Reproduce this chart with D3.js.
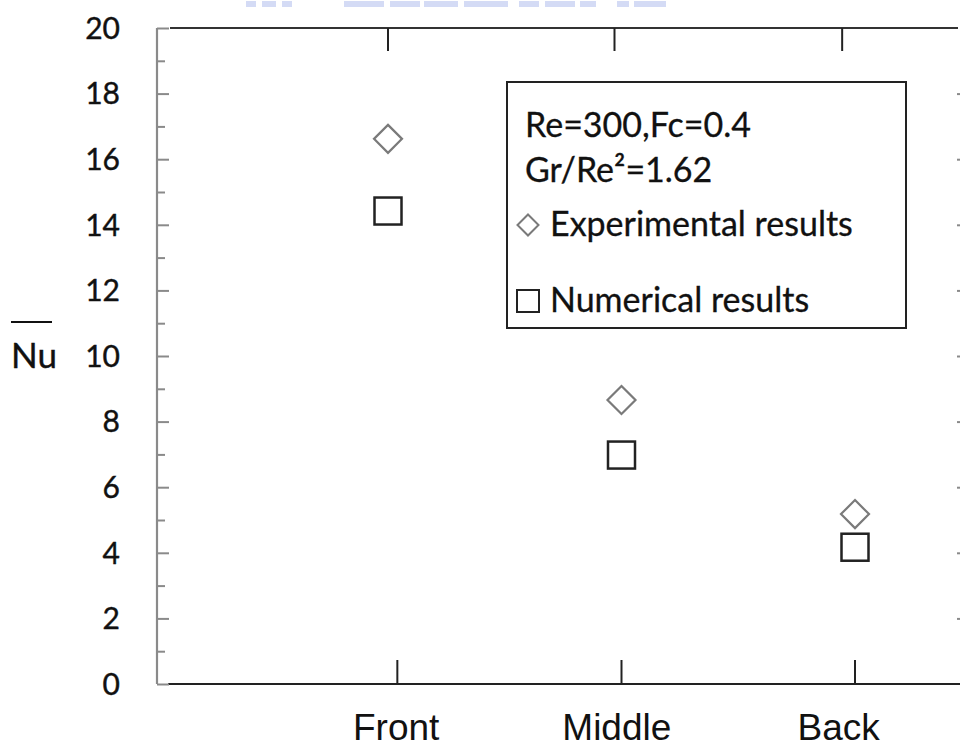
<!DOCTYPE html>
<html><head><meta charset="utf-8">
<script src="https://cdn.jsdelivr.net/npm/d3@7"></script>
<style>html,body{margin:0;padding:0;background:#fff;}svg{display:block;}</style>
</head><body>
<script>
// ---- data ----
const categories = ["Front", "Middle", "Back"];
const categoryPos = [1, 2, 3];             // data positions of the points
const bottomTickPos = [1.04, 2.0, 3.0];    // as drawn in the source figure
const topTickPos = [1.0, 1.97, 2.945];
const labelPos = [1.035, 1.98, 2.93];
const experimental = [16.62, 8.66, 5.18];
const numerical = [14.42, 6.98, 4.17];
const yTicks = [0, 2, 4, 6, 8, 10, 12, 14, 16, 18, 20];
const yMinorTicks = [1, 3, 5, 7, 9, 11, 13, 15, 17, 19];
const legendTitle = ["Re=300,Fc=0.4", "Gr/Re²=1.62"];
const legendItems = ["Experimental results", "Numerical results"];
const yLabel = "Nu";

(function () {
const W = 960, H = 749;
const svg = d3.select("body").append("svg").attr("width", W).attr("height", H);

const pL = 157, pT = 28, pB = 684, pR = 961;
const y = d3.scaleLinear().domain([0, 20]).range([pB, pT]);
const x = d3.scaleLinear().domain([0, 3.45]).range([154.5, 154.5 + 3.45 * 233.5]);

// faint cropped watermark at the very top
const wm = [[246, 10], [262, 14], [282, 10], [344, 40], [390, 30], [424, 34], [464, 44], [519, 20], [545, 30], [580, 16], [617, 12], [634, 32]];
svg.append("g").selectAll("rect").data(wm).join("rect")
  .attr("x", d => d[0]).attr("y", 1).attr("width", d => d[1]).attr("height", 6)
  .attr("fill", "#c9d2f2").attr("opacity", 0.8);

// frame lines
svg.append("line").attr("x1", 170).attr("x2", 958).attr("y1", pT).attr("y2", pT)
  .attr("stroke", "#333").attr("stroke-width", 2.2);
svg.append("line").attr("x1", 168).attr("x2", W).attr("y1", pB).attr("y2", pB)
  .attr("stroke", "#222").attr("stroke-width", 2.2);

// left y axis (gray, inward ticks)
const yAxisG = svg.append("g").attr("transform", `translate(${pL},0)`);
yAxisG.call(d3.axisRight(y).tickValues(yTicks).tickSize(12).tickFormat(""));
yAxisG.select(".domain").attr("d", `M0,${pT}V${pB}`).attr("stroke", "#8a8a8a").attr("stroke-width", 2.2);
yAxisG.selectAll(".tick line").attr("stroke", "#8a8a8a").attr("stroke-width", 2);
const yMinorG = svg.append("g").attr("transform", `translate(${pL},0)`);
yMinorG.call(d3.axisRight(y).tickValues(yMinorTicks).tickSize(8).tickFormat(""));
yMinorG.select(".domain").remove();
yMinorG.selectAll(".tick line").attr("stroke", "#8a8a8a").attr("stroke-width", 2);

// right axis ticks (mostly cropped)
const rG = svg.append("g").attr("transform", `translate(${pR},0)`);
rG.call(d3.axisLeft(y).tickValues(yTicks.slice(1, -1)).tickSize(4).tickFormat(""));
rG.select(".domain").remove();
rG.selectAll(".tick line").attr("stroke", "#8a8a8a").attr("stroke-width", 2);

// y tick labels
svg.append("g").selectAll("text").data(yTicks).join("text")
  .attr("x", 120).attr("y", d => y(d)).attr("dy", "0.36em")
  .attr("text-anchor", "end")
  .style("font-family", "Lato, 'Open Sans', sans-serif").style("font-size", "30px")
  .style("stroke", "#111").style("stroke-width", 0.4)
  .attr("fill", "#111").text(d => d);

// bottom ticks
svg.append("g").selectAll("line").data(bottomTickPos).join("line")
  .attr("x1", d => x(d)).attr("x2", d => x(d)).attr("y1", pB).attr("y2", pB - 24)
  .attr("stroke", "#222").attr("stroke-width", 2);
// top ticks
svg.append("g").selectAll("line").data(topTickPos).join("line")
  .attr("x1", d => x(d)).attr("x2", d => x(d)).attr("y1", pT).attr("y2", pT + 23)
  .attr("stroke", "#222").attr("stroke-width", 2);

// category labels
svg.append("g").selectAll("text").data(categories).join("text")
  .attr("x", (d, i) => x(labelPos[i])).attr("y", 740)
  .attr("text-anchor", "middle")
  .style("font-family", "'Liberation Sans', Arial, sans-serif").style("font-size", "37px")
  .attr("fill", "#111").text(d => d);

// y label with overbar
svg.append("text").attr("x", 11).attr("y", 368)
  .style("font-family", "Lato, sans-serif").style("font-size", "35px")
  .style("stroke", "#111").style("stroke-width", 0.4)
  .attr("fill", "#111").text(yLabel);
svg.append("line").attr("x1", 11).attr("x2", 52).attr("y1", 322).attr("y2", 322)
  .attr("stroke", "#111").attr("stroke-width", 2);

// markers
const diamond = (cx, cy, r) => `M${cx},${cy - r}L${cx + r},${cy}L${cx},${cy + r}L${cx - r},${cy}Z`;
svg.append("g").selectAll("path").data(experimental).join("path")
  .attr("d", (d, i) => diamond(x(categoryPos[i]), y(d), 14))
  .attr("fill", "none").attr("stroke", "#7a7a7a").attr("stroke-width", 2.2);
svg.append("g").selectAll("rect").data(numerical).join("rect")
  .attr("x", (d, i) => x(categoryPos[i]) - 13.5).attr("y", d => y(d) - 13.5)
  .attr("width", 27).attr("height", 27)
  .attr("fill", "none").attr("stroke", "#222").attr("stroke-width", 2.5);

// legend
const lg = svg.append("g");
lg.append("rect").attr("x", 507).attr("y", 82).attr("width", 399).attr("height", 246)
  .attr("fill", "#fff").attr("stroke", "#222").attr("stroke-width", 2);
const lfont = "Lato, 'Open Sans', sans-serif";
lg.selectAll("text.t").data(legendTitle).join("text").attr("class", "t")
  .attr("x", 525).attr("y", (d, i) => 137 + i * 45)
  .style("font-family", lfont).style("font-size", "34px")
  .style("stroke", "#111").style("stroke-width", 0.3)
  .attr("fill", "#111").text(d => d);
lg.selectAll("text.i").data(legendItems).join("text").attr("class", "i")
  .attr("x", 550).attr("y", (d, i) => 236 + i * 76)
  .style("font-family", lfont).style("font-size", "34px")
  .style("stroke", "#111").style("stroke-width", 0.3)
  .attr("fill", "#111").text(d => d);
lg.append("path").attr("d", diamond(528, 225, 10.5))
  .attr("fill", "none").attr("stroke", "#7a7a7a").attr("stroke-width", 2);
lg.append("rect").attr("x", 517).attr("y", 290).attr("width", 22).attr("height", 22)
  .attr("fill", "none").attr("stroke", "#222").attr("stroke-width", 2);
})();
</script>
</body></html>
